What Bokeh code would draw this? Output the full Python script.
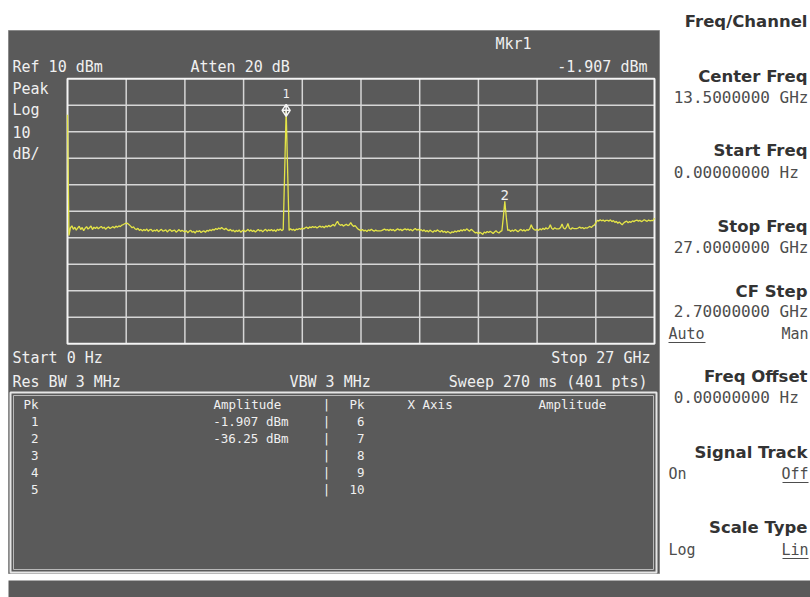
import numpy as np
from bokeh.plotting import figure
from bokeh.models import Range1d
from bokeh.core.properties import value
from bokeh.embed import file_html
from bokeh.resources import INLINE

# ---------------- data ----------------
start_ghz, stop_ghz = 0.0, 27.0
ref_level_dbm = 10.0
db_per_div = 10.0
n_div = 10

amp_dbm = [
    # 0-39
    -3.6, -49.1, -46.2, -45.5, -46.8, -46.0, -47.1, -46.3, -45.6, -46.9,
    -46.1, -47.3, -46.4, -45.8, -46.7, -46.2, -45.5, -46.9, -46.0, -46.5,
    -45.9, -46.6, -46.1, -45.7, -46.4, -46.0, -46.8, -46.2, -45.9, -46.5,
    -46.1, -45.8, -46.3, -45.6, -46.0, -45.5, -45.8, -45.2, -45.0, -44.7,
    # 40-79
    -44.5, -44.6, -45.1, -45.6, -46.2, -45.9, -46.6, -46.9, -46.4, -47.2,
    -46.8, -47.4, -46.9, -47.3, -46.7, -47.5, -47.0, -46.8, -47.6, -47.1,
    -47.4, -46.9, -47.7, -47.2, -46.8, -47.5, -47.3, -47.0, -47.8, -47.2,
    -46.9, -47.6, -47.3, -47.1, -47.9, -47.4, -46.9, -47.6, -47.2, -47.5,
    # 80-119
    -47.8, -47.3, -48.1, -47.5, -47.2, -47.9, -47.6, -48.2, -47.4, -47.7,
    -47.3, -48.0, -47.6, -47.4, -47.9, -47.2, -47.5, -47.0, -47.3, -46.8,
    -47.1, -46.5, -46.9, -46.3, -46.7, -46.1, -46.6, -46.9, -46.4, -47.0,
    -47.3, -46.8, -47.5, -47.1, -47.8, -47.2, -47.6, -47.0, -47.9, -47.4,
    # 120-159
    -47.1, -47.7, -47.3, -46.8, -47.5, -47.0, -47.6, -47.2, -47.8, -47.3,
    -46.9, -47.4, -47.1, -47.7, -47.2, -46.8, -47.5, -47.0, -47.3, -46.9,
    -47.4, -47.0, -47.6, -46.8, -47.2, -46.7, -47.3, -46.9, -24.6, -1.907,
    -24.6, -47.2, -46.6, -47.1, -46.8, -47.3, -46.7, -46.9, -46.5, -46.8,
    # 160-199
    -46.3, -46.7, -46.2, -46.0, -46.5, -45.9, -46.2, -45.7, -46.1, -45.8,
    -46.3, -45.9, -45.6, -46.0, -45.7, -46.2, -45.5, -45.9, -45.3, -45.8,
    -45.4, -45.0, -45.6, -44.6, -43.8, -44.9, -45.3, -45.0, -45.6, -45.2,
    -44.9, -45.4, -45.1, -44.3, -45.2, -45.7, -45.4, -46.1, -46.7, -47.0,
    # 200-239
    -47.3, -46.9, -47.4, -47.1, -47.6, -47.0, -47.3, -46.8, -47.2, -47.5,
    -47.1, -47.4, -47.4, -47.4, -47.3, -47.0, -46.7, -47.1, -46.9, -47.3,
    -46.8, -47.2, -46.9, -47.4, -47.0, -46.6, -47.1, -46.8, -47.3, -46.9,
    -46.6, -47.0, -46.7, -47.2, -46.8, -47.4, -46.9, -46.5, -47.1, -46.8,
    # 240-279
    -47.2, -46.9, -47.5, -47.0, -47.7, -47.2, -47.8, -47.1, -47.5, -47.9,
    -47.3, -47.6, -47.0, -47.4, -47.8, -47.2, -47.9, -47.5, -48.1, -47.6,
    -47.9, -48.3, -47.7, -48.0, -47.4, -47.8, -47.3, -47.6, -47.0, -47.4,
    -46.9, -47.3, -46.6, -47.1, -47.5, -46.8, -47.2, -47.7, -48.2, -47.9,
    # 280-319
    -48.5, -47.9, -48.3, -48.7, -47.8, -48.2, -47.6, -48.0, -47.5, -47.9,
    -48.4, -47.8, -47.3, -47.9, -48.2, -47.6, -47.4, -42.2, -36.25, -42.2,
    -47.2, -47.0, -47.6, -47.1, -47.5, -46.9, -47.3, -47.7, -47.2, -46.8,
    -47.4, -47.0, -47.5, -46.9, -47.2, -46.6, -45.1, -46.4, -46.9, -47.1,
    # 320-359
    -46.8, -47.2, -46.6, -47.0, -46.4, -46.9, -46.2, -46.7, -46.3, -45.1,
    -46.5, -46.8, -46.2, -46.6, -46.6, -46.6, -46.1, -44.8, -46.3, -46.7,
    -46.0, -44.6, -46.4, -46.8, -46.2, -46.5, -46.5, -46.5, -46.3, -45.9,
    -46.4, -46.1, -46.6, -46.2, -46.4, -46.0, -45.7, -46.1, -45.5, -45.2,
    # 360-400
    -44.4, -43.4, -43.7, -43.2, -43.6, -43.3, -43.8, -43.4, -43.4, -43.7,
    -43.2, -43.9, -43.5, -44.2, -43.8, -44.5, -44.0, -44.6, -45.1, -44.4,
    -44.0, -43.7, -44.3, -43.9, -44.2, -43.6, -43.9, -43.5, -43.3, -43.7,
    -43.4, -43.9, -43.6, -43.2, -43.5, -43.8, -43.3, -43.6, -43.4, -43.5,
    -42.6,
]
freq_ghz = np.linspace(start_ghz, stop_ghz, len(amp_dbm))

marker_index = [149, 298]
marker_names = ["1", "2"]
marker_amp_text = ["%.4g dBm" % amp_dbm[i] for i in marker_index]

header_left = ["Ref 10 dBm", "Atten 20 dB"]
side_labels = ["Peak", "Log", "10", "dB/"]
footer_texts = ["Start 0 Hz", "Stop 27 GHz", "Res BW 3 MHz", "VBW 3 MHz", "Sweep 270 ms (401 pts)"]

table_pk_left = ["1", "2", "3", "4", "5"]
table_pk_right = ["6", "7", "8", "9", "10"]

softkey_menu = "Freq/Channel"
softkey_titles = ["Center Freq", "Start Freq", "Stop Freq", "CF Step", "Freq Offset", "Signal Track", "Scale Type"]
softkey_values = ["13.5000000 GHz", "0.00000000  Hz", "27.0000000 GHz", "2.70000000 GHz", "0.00000000  Hz"]

# ---------------- figure ----------------
W, H = 810, 597

p = figure(width=W, height=H, x_range=Range1d(0, W), y_range=Range1d(H, 0),
           output_backend="svg", toolbar_location=None, min_border=0,
           x_axis_location=None, y_axis_location=None)
p.grid.visible = False
p.outline_line_color = None
p.background_fill_color = "white"
p.border_fill_color = "white"

MONO = "DejaVu Sans Mono"
DARK = "#5a5a5a"
FG = "#f0f0f0"

# graticule placement (page pixels) -> extra ranges
gx0, gx1 = 67.0, 654.0
gy0, gy1 = 78.3, 343.3
top_db = ref_level_dbm
bot_db = ref_level_dbm - n_div * db_per_div
fs = (stop_ghz - start_ghz) / (gx1 - gx0)
ds = (top_db - bot_db) / (gy1 - gy0)
p.extra_x_ranges = {"freq": Range1d(start_ghz - gx0 * fs, stop_ghz + (W - gx1) * fs)}
p.extra_y_ranges = {"dbm": Range1d(bot_db - (H - gy1) * ds, top_db + gy0 * ds)}

# panels
p.quad(left=[8], right=[659], top=[30], bottom=[573],
       fill_color=DARK, line_color="#8a8a8a", line_width=1)
p.quad(left=[8], right=[812], top=[580], bottom=[600],
       fill_color=DARK, line_color=None)
# table box
p.quad(left=[10], right=[656], top=[392], bottom=[572],
       fill_color=None, line_color="#e6e6e6", line_width=2)
p.quad(left=[13], right=[653], top=[395], bottom=[569],
       fill_color=None, line_color="#b8b8b8", line_width=1)

# graticule
fdiv = [start_ghz + k * (stop_ghz - start_ghz) / n_div for k in range(n_div + 1)]
ddiv = [bot_db + k * db_per_div for k in range(n_div + 1)]
p.segment(x0=fdiv[1:-1], y0=[bot_db] * (n_div - 1), x1=fdiv[1:-1], y1=[top_db] * (n_div - 1),
          x_range_name="freq", y_range_name="dbm", line_color="#d6d6d6", line_width=1.5)
p.segment(x0=[start_ghz] * (n_div - 1), y0=ddiv[1:-1], x1=[stop_ghz] * (n_div - 1), y1=ddiv[1:-1],
          x_range_name="freq", y_range_name="dbm", line_color="#d6d6d6", line_width=1.5)
p.quad(left=[start_ghz], right=[stop_ghz], bottom=[bot_db], top=[top_db],
       x_range_name="freq", y_range_name="dbm", fill_color=None, line_color="#f4f4f4", line_width=2)

# trace
p.line(freq_ghz, amp_dbm, x_range_name="freq", y_range_name="dbm",
       line_color="#e4e447", line_width=1.3)

# markers
mx = [freq_ghz[i] for i in marker_index]
my = [amp_dbm[i] for i in marker_index]
p.scatter(x=mx[:1], y=my[:1], marker="diamond_cross", size=12, fill_color=None,
          line_color="#f4f4f4", line_width=1.5, x_range_name="freq", y_range_name="dbm")
p.text(x=mx[:1], y=my[:1], text=marker_names[:1], x_range_name="freq", y_range_name="dbm",
       text_font=value(MONO), text_font_size=value("12px"), text_color=FG,
       text_align="center", text_baseline="bottom", y_offset=-12)
p.text(x=mx[1:], y=my[1:], text=marker_names[1:], x_range_name="freq", y_range_name="dbm",
       text_font=value(MONO), text_font_size=value("14px"), text_color=FG,
       text_align="center", text_baseline="bottom", y_offset=-1)


def txt(x, y, s, size=15, color=FG, align="left", font=MONO, style="normal", baseline="middle"):
    p.text(x=[x], y=[y], text=[s], text_font=value(font), text_font_size=value("%spx" % size),
           text_color=color, text_align=align, text_baseline=baseline, text_font_style=style)


# instrument annotations
txt(495, 43, "Mkr1")
txt(12, 66, header_left[0])
txt(190, 66, header_left[1])
txt(647, 66, marker_amp_text[0], align="right")
for k, s in enumerate(side_labels):
    txt(12, 88 + k * 21.7, s)
txt(12, 357, footer_texts[0])
txt(650, 357, footer_texts[1], align="right")
txt(12, 381, footer_texts[2])
txt(289, 381, footer_texts[3])
txt(647, 381, footer_texts[4], align="right")

# peak table
TS = 12.5
txt(23, 404, "Pk", size=TS)
txt(213, 404, "Amplitude", size=TS)
txt(326, 404, "|", size=TS, align="center")
txt(364, 404, "Pk", size=TS, align="right")
txt(407, 404, "X Axis", size=TS)
txt(538, 404, "Amplitude", size=TS)
for k in range(5):
    yy = 421 + k * 17
    txt(38, yy, table_pk_left[k], size=TS, align="right")
    if k < len(marker_amp_text):
        txt(288, yy, marker_amp_text[k], size=TS, align="right")
    txt(326, yy, "|", size=TS, align="center")
    txt(364, yy, table_pk_right[k], size=TS, align="right")

# softkey panel
KEY = "#333333"
VAL = "#4d4d4d"
BOLD = "DejaVu Sans"
txt(807, 21, softkey_menu, size=16.5, color=KEY, align="right", font=BOLD, style="bold")
title_y = [76, 150, 226, 291, 376, 452, 527]
for s, yy in zip(softkey_titles, title_y):
    txt(807, yy, s, size=16.5, color=KEY, align="right", font=BOLD, style="bold")
value_y = [97, 172, 247, 311, 397]
for s, yy in zip(softkey_values, value_y):
    txt(808, yy, s, size=16, color=VAL, align="right")
txt(668, 333, "Auto", color=VAL)
txt(808, 333, "Man", color=VAL, align="right")
txt(668, 473, "On", color=VAL)
txt(808, 473, "Off", color=VAL, align="right")
txt(668, 549, "Log", color=VAL)
txt(808, 549, "Lin", color=VAL, align="right")
p.segment(x0=[668, 782, 782], y0=[342, 482, 558],
          x1=[705, 808, 808], y1=[342, 482, 558],
          line_color=VAL, line_width=1)

open("out.html", "w").write(file_html(p, INLINE))
